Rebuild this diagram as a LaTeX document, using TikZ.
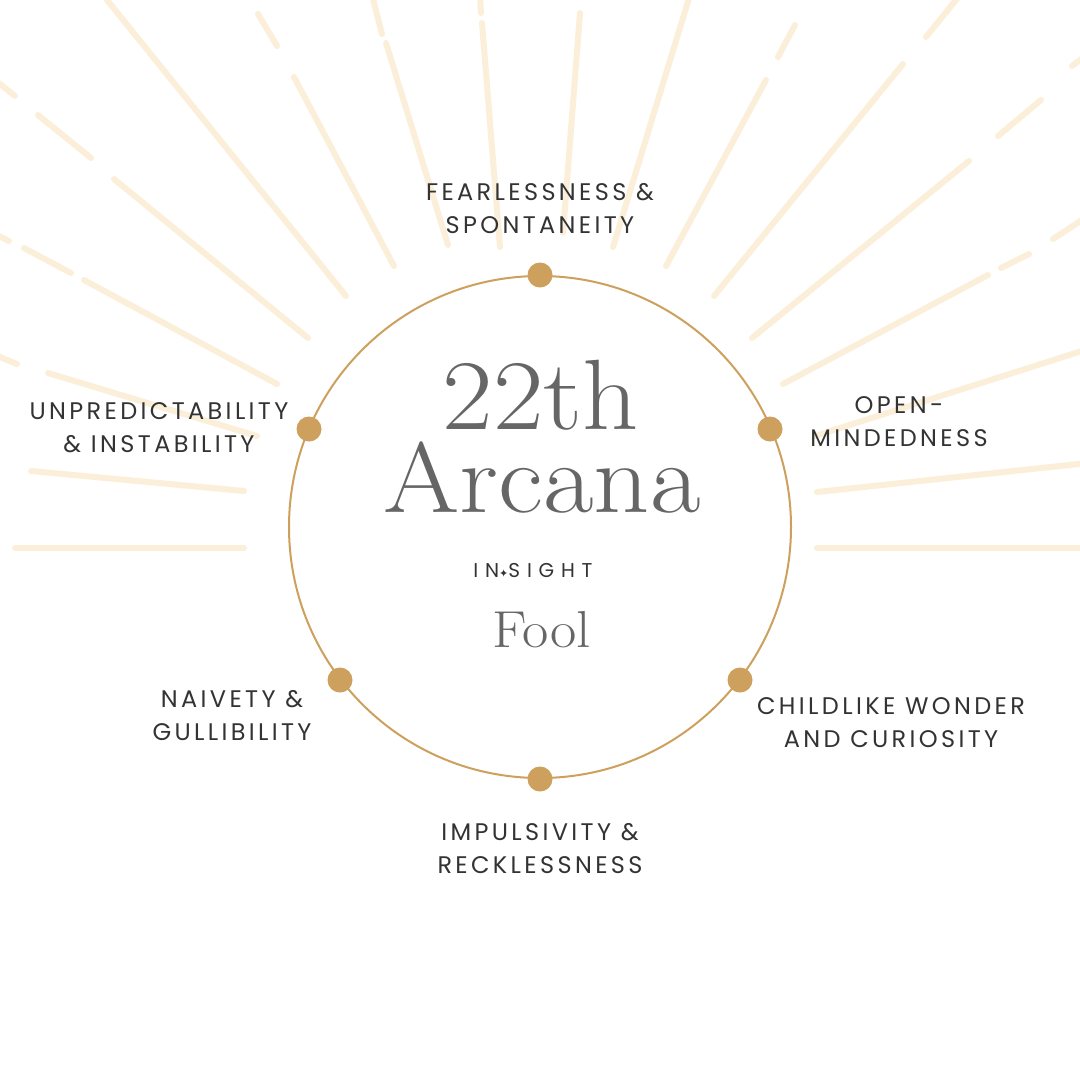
\documentclass[tikz,border=0pt]{standalone}
\usepackage{fontspec}
\setmainfont{Latin Modern Roman}
\newfontfamily\titlefont[FakeStretch=1.1]{Latin Modern Roman}
\newfontfamily\traitfont[LetterSpace=14]{Poppins}
\newfontfamily\brandfont[LetterSpace=34]{Poppins}
\newfontfamily\starfont{DejaVu Sans}
\definecolor{gold}{HTML}{CDA05E}
\definecolor{beam}{HTML}{FBEFD9}
\definecolor{ink}{HTML}{333333}
\definecolor{titlegray}{HTML}{666666}
\tikzstyle{dot} = [circle, fill=gold, minimum size=25pt, inner sep=0pt]
\tikzstyle{trait} = [align=center, text=ink, inner sep=0pt, font=\traitfont\fontsize{24}{33}\selectfont]
\tikzstyle{sunray} = [draw=beam, line width=6pt, line cap=round]
\tikzstyle{heading} = [anchor=base, inner sep=0pt, text=titlegray]

\begin{document}
\begin{tikzpicture}[x=1pt, y=-1pt]
	\useasboundingbox (0,0) rectangle (1080,1080);
	\fill[white] (0,0) rectangle (1080,1080);
	\clip (0,0) rectangle (1080,1080);
	\foreach \xa/\ya/\xb/\yb in {
		103/-5/346/296,
		258/14/277/46, 294/77/394/266,
		372/-5/382/34, 386/43/448/245,
		480/-5/481/13, 482/23/500/247,
		580/13/563/233,
		690/-5/613/247,
		795/25/778/57, 766/80/666/266,
		960/-5/926/37, 903/64/714/296,
		1088/54/1072/66, 1041/100/998/136, 969/161/752/338,
		1088/216/1053/239, 1029/254/1001/268, 988/275/783/384,
		1088/349/815/436,
		1088/463/817/492,
		1088/548/817/548,
		-5/80/15/96, 38/115/91/158, 114/179/308/338,
		-5/234/9/241, 24/248/71/273, 84/280/277/384,
		-5/355/17/364, 48/373/257/436,
		31/471/244/491,
		15/548/244/548}
		\draw[sunray] (\xa,\ya) -- (\xb,\yb);
	\draw[gold, line width=2pt] (540,527) circle (251);
	\node[dot] (fearDot) at (540,275) {};
	\node[dot] (openDot) at (770,429) {};
	\node[dot] (childDot) at (740,680) {};
	\node[dot] (impulseDot) at (540,779) {};
	\node[dot] (naiveDot) at (340,680) {};
	\node[dot] (unpredDot) at (309,429) {};
	\node[trait] (fear) at (540,209) {FEARLESSNESS \&\\SPONTANEITY};
	\node[trait] (open) at (899,422) {OPEN-\\MINDEDNESS};
	\node[trait] (child) at (891,723) {CHILDLIKE WONDER\\AND CURIOSITY};
	\node[trait] (impulse) at (540,849) {IMPULSIVITY \&\\RECKLESSNESS};
	\node[trait] (naive) at (232,716) {NAIVETY \&\\GULLIBILITY};
	\node[trait] (unpred) at (159,428) {UNPREDICTABILITY\\\& INSTABILITY};
	\node[heading, font=\titlefont\fontsize{100}{100}\selectfont] (number) at (541,429) {22th};
	\node[heading, font=\titlefont\fontsize{100}{100}\selectfont] (arcana) at (542,512) {Arcana};
	\node[heading, text=ink, font=\brandfont\fontsize{20}{20}\selectfont] (brand) at (533,577) {IN{\starfont\fontsize{11}{11}\selectfont ✦}SIGHT};
	\node[heading, text=black!60, font=\titlefont\fontsize{52}{52}\selectfont] (card) at (542,647) {Fool};
\end{tikzpicture}
\end{document}
